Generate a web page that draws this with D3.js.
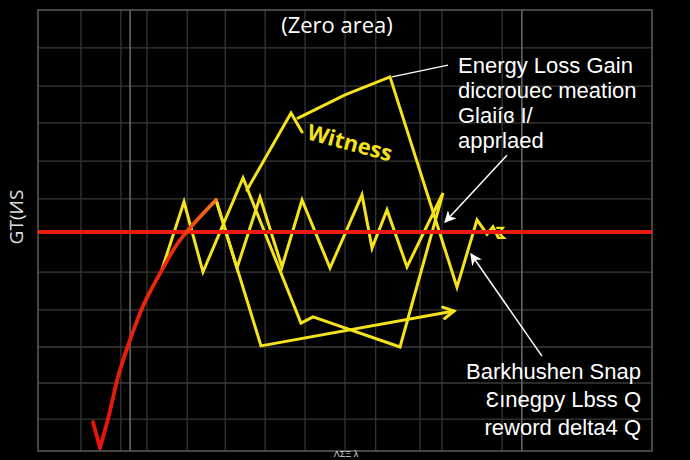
<!DOCTYPE html>
<html>
<head>
<meta charset="utf-8">
<script src="https://cdn.jsdelivr.net/npm/d3@7"></script>
<style>
  html, body { margin: 0; padding: 0; background: #000; }
  svg { display: block; }
</style>
</head>
<body>
<svg id="chart" width="690" height="460"></svg>
<script>
// ---------- data (chart units) ----------
const xGridMinor = [7.0, 13.5, 17.75, 24.3, 30.5, 37.0, 43.5, 50.0, 55.0, 62.2, 65.8, 75.6];
const xGridMajor = [15.0, 78.8];
const yGrid = [4.97, 3.93, 2.93, 1.89, 0.86, -1.13, -2.16, -3.17, -4.15, -5.13];
const zeroLevel = -0.04;

// main yellow zigzag trace
const zigzagX = [29.0, 32.41, 36.16, 39.74, 43.0, 47.56, 52.77, 54.4, 56.84, 60.1, 65.96, 58.96, 44.79, 42.83, 33.39, 26.87, 23.78, 20.2];
const zigzagY = [0.83, -1.02, 0.91, -0.99, 0.83, -1.02, 0.97, -0.48, 0.56, -0.99, 1.02, -3.17, -2.35, -2.52, 1.43, -1.13, 0.78, -1.05];

// lower yellow trace ending in an arrow
const lowerX = [29.0, 36.32, 67.75];
const lowerY = [0.83, -3.14, -2.19];

// "Witness" loop
const witnessRiseX = [34.04, 41.21, 43.0];
const witnessRiseY = [1.10, 3.20, 2.68];
const witnessX = [42.35, 50.0, 57.33, 68.24, 71.5, 73.13, 74.1, 74.92];
const witnessY = [3.06, 3.69, 4.18, -1.54, 0.29, -0.10, 0.10, -0.18];
const squiggleX = [74.76, 75.73, 75.08, 75.9, 74.9];
const squiggleY = [0.07, 0.07, -0.07, -0.2, -0.2];

// red response curve
const redTipX = [8.96, 10.1];
const redTipY = [-5.21, -5.92];
const redX = [10.1, 11.6, 13.0, 14.98, 17.4, 20.2, 23.13, 26.38, 29.0];
const redY = [-5.92, -5.0, -4.0, -2.98, -1.95, -1.07, -0.26, 0.37, 0.83];

// annotations
const titleText = "(Zero area)";
const witnessLabel = "Witness";
const topNote = ["Energy Loss Gain", "diccrouec meation", "Glaiíɞ I/", "apprlaed"];
const bottomNote = ["Barkhushen Snap", "Ɛınegpy Lbss Q", "reword delta4  Q"];
const yLabel = "GT(ИS";
const xLabel = "ΛΣΞ λ";
const pointerX = [66.78, 57.65];
const pointerY = [4.50, 4.18];
const arrow1X = [76.38, 66.29];
const arrow1Y = [2.05, 0.23];
const arrow2X = [82.08, 70.52];
const arrow2Y = [-3.42, -0.64];

// ---------- drawing ----------
const svg = d3.select("#chart");
const x = d3.scaleLinear().domain([0, 100]).range([38, 652]);
const y = d3.scaleLinear().domain([-6, 6]).range([451, 10]);
const zip = (xs, ys) => xs.map((v, i) => [v, ys[i]]);
const line = d3.line().x(d => x(d[0])).y(d => y(d[1]));
const smooth = d3.line().x(d => x(d[0])).y(d => y(d[1])).curve(d3.curveMonotoneY);

svg.append("rect").attr("width", 690).attr("height", 460).attr("fill", "#000");

const defs = svg.append("defs");
defs.append("marker").attr("id", "wArrow")
  .attr("viewBox", "0 0 10 10").attr("refX", 9).attr("refY", 5)
  .attr("markerWidth", 12).attr("markerHeight", 12).attr("markerUnits", "userSpaceOnUse")
  .attr("orient", "auto")
  .append("path").attr("d", "M0,0 L10,5 L0,10 L3,5 Z").attr("fill", "#fff");
const grad = defs.append("linearGradient").attr("id", "redGrad")
  .attr("gradientUnits", "userSpaceOnUse")
  .attr("x1", x(10)).attr("y1", y(-5.9)).attr("x2", x(29)).attr("y2", y(0.83));
grad.append("stop").attr("offset", "0").attr("stop-color", "#e8140d");
grad.append("stop").attr("offset", "0.8").attr("stop-color", "#ee2a0c");
grad.append("stop").attr("offset", "1").attr("stop-color", "#f47a18");

// grid
const g = svg.append("g");
g.selectAll("line.ym").data(yGrid).join("line")
  .attr("x1", x(0)).attr("x2", x(100)).attr("y1", d => y(d)).attr("y2", d => y(d))
  .attr("stroke", "#3a3a3a").attr("stroke-width", 1.3);
g.selectAll("line.xm").data(xGridMinor).join("line")
  .attr("x1", d => x(d)).attr("x2", d => x(d)).attr("y1", y(6)).attr("y2", y(-6))
  .attr("stroke", "#363636").attr("stroke-width", 1.3);
g.selectAll("line.xM").data(xGridMajor).join("line")
  .attr("x1", d => x(d)).attr("x2", d => x(d)).attr("y1", y(6)).attr("y2", y(-6))
  .attr("stroke", "#6a6a6a").attr("stroke-width", 1.5);
g.append("rect").attr("x", x(0)).attr("y", y(6))
  .attr("width", x(100) - x(0)).attr("height", y(-6) - y(6))
  .attr("fill", "none").attr("stroke", "#585858").attr("stroke-width", 1.6);

// yellow traces
const yellow = "#f4e31a";
const ylw = svg.append("g").attr("fill", "none").attr("stroke", yellow)
  .attr("stroke-width", 3).attr("stroke-linejoin", "miter").attr("stroke-linecap", "round");
ylw.append("path").attr("d", line(zip(zigzagX, zigzagY)));
ylw.append("path").attr("d", line(zip(lowerX, lowerY)));
ylw.append("path").attr("d", line(zip(witnessRiseX, witnessRiseY)));
ylw.append("path").attr("d", line(zip(witnessX, witnessY)));
ylw.append("path").attr("d", line(zip(squiggleX, squiggleY))).attr("stroke-width", 2.2);
// open arrow head at end of the lower trace
{
  const n = lowerX.length;
  const x1 = x(lowerX[n - 2]), y1 = y(lowerY[n - 2]), x2 = x(lowerX[n - 1]), y2 = y(lowerY[n - 1]);
  const a = Math.atan2(y2 - y1, x2 - x1), L = 12, s = 0.5;
  ylw.append("path").attr("d",
    `M${x2 - L * Math.cos(a - s)},${y2 - L * Math.sin(a - s)} L${x2},${y2} L${x2 - L * Math.cos(a + s)},${y2 - L * Math.sin(a + s)}`);
}

// red zero line
svg.append("line").attr("x1", x(0)).attr("x2", x(100))
  .attr("y1", y(zeroLevel)).attr("y2", y(zeroLevel))
  .attr("stroke", "#ec1a0e").attr("stroke-width", 4);

// red curve
svg.append("path").attr("d", line(zip(redTipX, redTipY)))
  .attr("fill", "none").attr("stroke", "#e8140d").attr("stroke-width", 3.8).attr("stroke-linecap", "round");
svg.append("path").attr("d", smooth(zip(redX, redY)))
  .attr("fill", "none").attr("stroke", "url(#redGrad)").attr("stroke-width", 3.8).attr("stroke-linecap", "round");

// white pointers
const wht = svg.append("g").attr("fill", "none").attr("stroke", "#fff").attr("stroke-width", 1.5);
wht.append("path").attr("d", line(zip(pointerX, pointerY)));
wht.append("path").attr("d", line(zip(arrow1X, arrow1Y))).attr("marker-end", "url(#wArrow)");
wht.append("path").attr("d", line(zip(arrow2X, arrow2Y))).attr("marker-end", "url(#wArrow)");

// texts
const font = "'Open Sans', 'Noto Sans', sans-serif";
const noteFont = "'Liberation Sans', Arial, sans-serif";
svg.append("text").attr("x", 337).attr("y", 33).attr("text-anchor", "middle")
  .attr("font-family", font).attr("font-size", 22).attr("fill", "#fff").text(titleText);

svg.append("text").attr("transform", "translate(306,139) rotate(15)")
  .attr("font-family", font).attr("font-size", 22).attr("font-weight", 700)
  .attr("fill", yellow).text(witnessLabel);

svg.append("g").selectAll("text").data(topNote).join("text")
  .attr("x", 458).attr("y", (d, i) => 73 + i * 25)
  .attr("font-family", noteFont).attr("font-size", 22).attr("fill", "#fff").text(d => d);

svg.append("g").selectAll("text").data(bottomNote).join("text")
  .attr("x", 641).attr("y", (d, i) => 379 + i * 28).attr("text-anchor", "end")
  .attr("font-family", noteFont).attr("font-size", 22).attr("fill", "#fff").text(d => d);

svg.append("text").attr("transform", "translate(23,217) rotate(-90)").attr("text-anchor", "middle")
  .attr("font-family", font).attr("font-size", 19).attr("fill", "#e0e0e0").text(yLabel);

svg.append("text").attr("x", 346).attr("y", 457).attr("text-anchor", "middle")
  .attr("font-family", noteFont).attr("font-size", 9).attr("fill", "#d8d8d8").text(xLabel);
</script>
</body>
</html>
